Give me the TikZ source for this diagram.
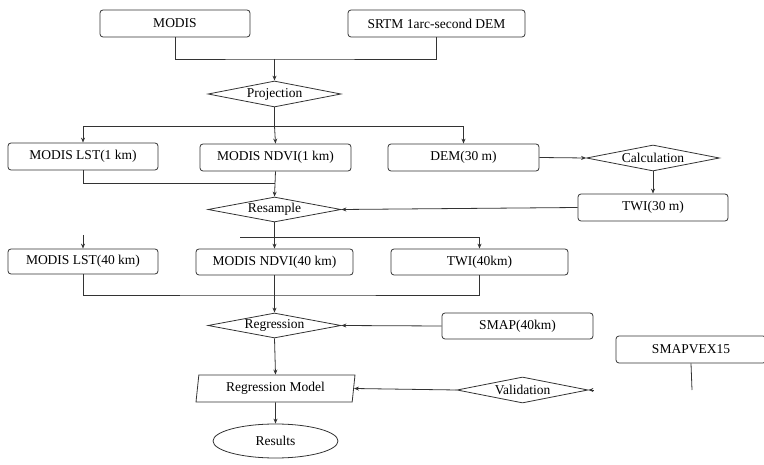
\documentclass[tikz,border=0pt]{standalone}
\usepackage{fontspec}
\setmainfont{Liberation Serif}
\usetikzlibrary{arrows.meta,shapes.geometric}
\definecolor{ink}{HTML}{333333}
\definecolor{muted}{HTML}{707070}
\tikzset{
  caja/.style={draw=ink,rounded corners=3pt,line width=0.8pt,inner sep=0pt,minimum height=27pt,align=center},
  rombo/.style={diamond,draw=ink,line width=0.8pt,aspect=5,inner sep=0pt,minimum width=133pt,minimum height=26pt},
  modelo/.style={trapezium,draw=ink,line width=0.8pt,trapezium left angle=77,trapezium right angle=103,
    trapezium stretches body,inner sep=0pt,minimum width=159pt,minimum height=27pt},
  final/.style={ellipse,draw=ink,line width=0.8pt,inner sep=0pt,minimum width=125pt,minimum height=34pt},
  linea/.style={line width=0.8pt,color=ink},
  flecha/.style={-{Stealth[length=5pt,width=4pt]},line width=0.8pt,color=ink},
}
\begin{document}
\begin{tikzpicture}[x=1pt,y=-1pt,font=\fontsize{13.5}{15}\selectfont]
  \useasboundingbox (0,0) rectangle (764,465);
  % entradas
  \node[caja,minimum width=150pt] (modis) at (175,23.5) {MODIS};
  \node[caja,minimum width=177pt] (srtm) at (436.5,23.5) {SRTM 1arc-second DEM};
  \node[rombo] (proj) at (274.5,94) {Projection};
  % 1 km / 30 m
  \node[caja,minimum width=150pt] (lst1) at (83,156.5) {MODIS LST(1 km)};
  \node[caja,minimum width=151pt] (ndvi1) at (275.5,157.5) {MODIS NDVI(1 km)};
  \node[caja,minimum width=151pt] (dem) at (463.5,157.5) {DEM(30 m)};
  \node[rombo] (calc) at (653,158) {Calculation};
  \node[caja,minimum width=150pt] (twi30) at (653,207.5) {TWI(30 m)};
  \node[rombo,minimum height=25pt] (resam) at (274.5,209.5) {Resample};
  % 40 km
  \node[caja,minimum width=150pt,minimum height=25pt] (lst40) at (83,261.5) {MODIS LST(40 km)};
  \node[caja,minimum width=157pt,minimum height=26pt] (ndvi40) at (274.5,262) {MODIS NDVI(40 km)};
  \node[caja,minimum width=177pt,minimum height=26pt] (twi40) at (479.5,262) {TWI(40km)};
  \node[rombo,minimum height=25pt] (regr) at (274.5,325.5) {Regression};
  \node[caja,minimum width=151pt,minimum height=26pt] (smap) at (517.5,326) {SMAP(40km)};
  \node[caja,minimum width=150pt] (vex) at (691,349.5) {SMAPVEX15};
  \node[modelo] (model) at (275.5,388.5) {Regression Model};
  \node[rombo,minimum width=131pt] (valid) at (522.5,390) {Validation};
  \node[final] (res) at (275.5,441) {Results};
  % puntos de union
  \coordinate (u1) at (274.5,59);
  \coordinate (u2) at (274.5,126);
  \coordinate (u3) at (274.5,183);
  \coordinate (u4) at (240,237);
  \coordinate (s1) at (83,235);
  \coordinate (u5) at (274.5,295);
  \coordinate (v1) at (692,390);
  \coordinate (v2) at (593.5,390);
  % conectores
  \draw[linea] (modis.south) |- (u1) -| (srtm.south);
  \draw[flecha] (u1) -- (proj.north);
  \draw[linea] (proj.south) -- (u2);
  \draw[flecha] (u2) -| (lst1.north);
  \draw[flecha] (u2) -- (ndvi1.north);
  \draw[flecha] (u2) -| (dem.north);
  \draw[flecha] (dem.east) -- (calc.west);
  \draw[flecha] (calc.south) -- (twi30.north);
  \draw[flecha] (twi30.west) -- (resam.east);
  \draw[linea] (lst1.south) |- (u3);
  \draw[flecha] (ndvi1.south) -- (resam.north);
  \draw[flecha] (u4) -| (twi40.north);
  \draw[flecha] (resam.south) -- (ndvi40.north);
  \draw[flecha] (s1) -- (lst40.north);
  \draw[linea] (lst40.south) |- (u5) -| (twi40.south);
  \draw[flecha] (ndvi40.south) -- (regr.north);
  \draw[flecha] (smap.west) -- (regr.east);
  \draw[flecha] (regr.south) -- (model.north);
  \draw[flecha] (valid.west) -- (model.east);
  \draw[flecha] (model.south) -- (res.north);
  \draw[linea] (vex.south) -- (v1);
  \draw[flecha] (v2) -- (valid.east);
\end{tikzpicture}
\end{document}
